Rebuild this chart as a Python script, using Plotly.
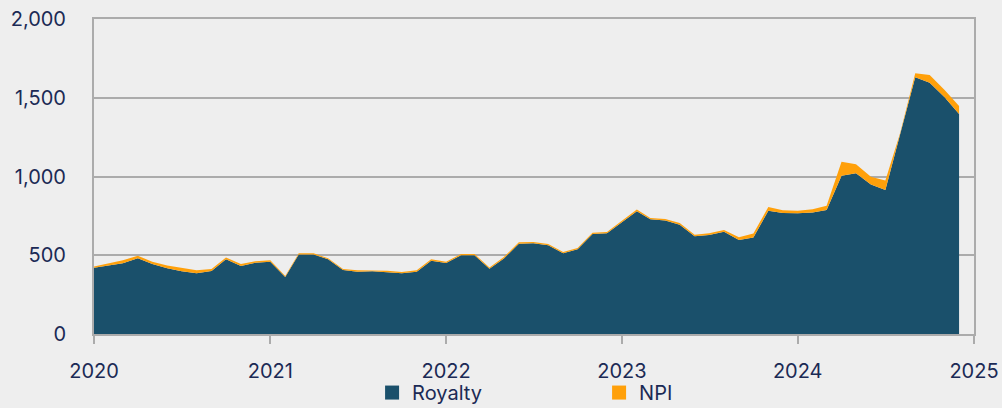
import plotly.graph_objects as go
import pandas as pd

months = pd.date_range("2020-01-01", "2024-12-01", freq="MS").strftime("%Y-%m-%d").tolist()

royalty = [420, 436, 449, 481, 445, 418, 398, 385, 400, 474, 432, 453,
           459, 362, 505, 504, 474, 406, 396, 398, 394, 386, 396, 465,
           451, 500, 500, 415, 480, 573, 576, 563, 512, 538, 635, 639,
           710, 780, 728, 720, 694, 620, 628, 650, 597, 612, 783, 768,
           766, 772, 787, 1005, 1020, 950, 914, 1265, 1630, 1596, 1503, 1397]
npi = [8, 14, 19, 16, 13, 17, 22, 20, 12, 11, 12, 9,
       9, 6, 7, 8, 7, 7, 8, 6, 7, 7, 8, 9,
       8, 8, 8, 8, 9, 9, 8, 8, 9, 8, 8, 9,
       9, 10, 8, 10, 11, 10, 11, 10, 17, 26, 23, 18,
       16, 20, 28, 89, 57, 49, 61, 15, 25, 48, 46, 51]

y_ticks = [0, 500, 1000, 1500, 2000]
x_ticks = ["2020-01-01", "2021-01-01", "2022-01-01", "2023-01-01", "2024-01-01", "2025-01-01"]
x_labels = ["2020", "2021", "2022", "2023", "2024", "2025"]

C_ROY = "#1A506B"
C_NPI = "#FFA00A"
TXT = "#1B2A55"
GRID = "#ABABAB"
BG = "#EEEEEE"

fig = go.Figure()
fig.add_trace(go.Scatter(x=months, y=royalty, name="Royalty", stackgroup="one",
                         mode="lines", line=dict(width=0, color=C_ROY),
                         fillcolor=C_ROY, showlegend=False))
fig.add_trace(go.Scatter(x=months, y=npi, name="NPI", stackgroup="one",
                         mode="lines", line=dict(width=0, color=C_NPI),
                         fillcolor=C_NPI, showlegend=False))
# legend swatches
fig.add_trace(go.Scatter(x=[None], y=[None], mode="markers", name="Royalty",
                         marker=dict(symbol="square", size=14, color=C_ROY)))
fig.add_trace(go.Scatter(x=[None], y=[None], mode="markers", name="NPI",
                         marker=dict(symbol="square", size=14, color=C_NPI)))

fig.update_layout(
    width=1002, height=408,
    margin=dict(l=94, r=28, t=19, b=74, autoexpand=False),
    paper_bgcolor=BG, plot_bgcolor=BG,
    font=dict(family="Inter, Lato, sans-serif", size=20, color=TXT),
    showlegend=True,
    legend=dict(orientation="h", x=0.316, xanchor="left", y=-0.124, yanchor="top",
                traceorder="normal",
                entrywidth=182, entrywidthmode="pixels",
                bgcolor="rgba(0,0,0,0)", font=dict(size=20, color=TXT),
                itemclick=False),
)
fig.update_xaxes(
    type="date", range=["2020-01-01", "2025-01-01"],
    tickvals=x_ticks, ticktext=x_labels, automargin=False,
    showgrid=False, showline=True, linecolor=GRID, linewidth=2, mirror=True,
    ticks="outside", ticklen=8, tickwidth=2, tickcolor=GRID,
    ticklabelstandoff=10,
    zeroline=False,
)
fig.update_yaxes(
    range=[0, 2000], tickvals=y_ticks, tickformat=",", automargin=False,
    showgrid=True, gridcolor=GRID, gridwidth=2,
    showline=True, linecolor=GRID, linewidth=2, mirror=True,
    ticks="outside", ticklen=22, tickcolor="rgba(0,0,0,0)",
    zeroline=False,
)

fig.write_html(
    "out.html",
    config={"displayModeBar": False},
    post_script="document.body.style.margin='0';document.body.style.background='#EEEEEE';",
)
